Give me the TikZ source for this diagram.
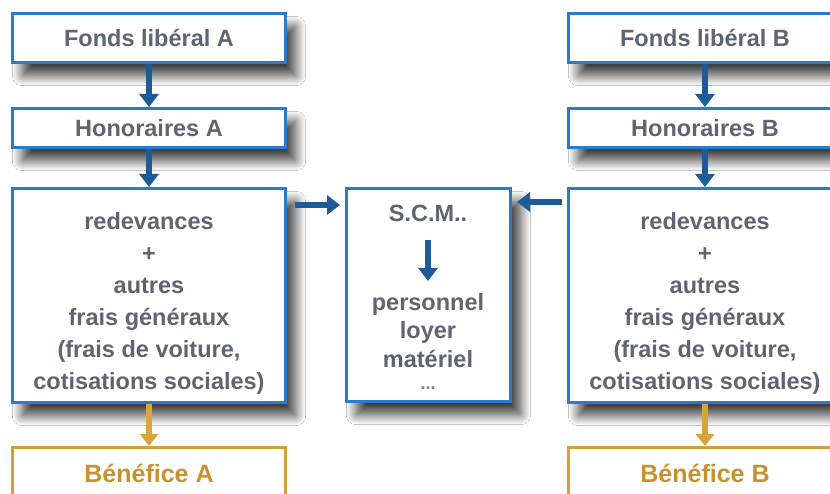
\documentclass[tikz,border=0pt]{standalone}
\usepackage{fontspec}
\setmainfont{Liberation Sans}
\usetikzlibrary{arrows.meta,shadows.blur}
\definecolor{boxblue}{HTML}{2A7BCB}
\definecolor{arrblue}{HTML}{1F5A98}
\definecolor{txtgray}{HTML}{5E6572}
\definecolor{goldline}{HTML}{D4A03A}
\definecolor{goldtxt}{HTML}{C8912B}
\definecolor{goldarr}{HTML}{D9A53A}
\begin{document}
\begin{tikzpicture}[x=1pt,y=-1pt,
  bluebox/.style={draw=boxblue,line width=2.6pt,fill=white,inner sep=0pt,
    text=txtgray,font=\bfseries\fontsize{23.5}{32}\selectfont,align=center,
    blur shadow={shadow xshift=10pt,shadow yshift=-13pt,shadow blur radius=10pt,shadow blur steps=14,shadow opacity=75}},
  colbox/.style={bluebox,minimum width=273.4pt},
  goldbox/.style={draw=goldline,line width=2.6pt,fill=white,inner sep=0pt,
    minimum width=273.4pt,minimum height=51.4pt,text=goldtxt,
    font=\bfseries\fontsize{25}{30}\selectfont},
  plaintxt/.style={inner sep=0pt,text=txtgray,font=\bfseries\fontsize{23.5}{28.5}\selectfont,align=center},
  bluearr/.style={line width=6pt,draw=arrblue,-{Triangle[width=19pt,length=13pt]}},
  goldarrow/.style={line width=5.5pt,draw=goldarr,-{Triangle[width=18pt,length=12pt]}}
]
\clip (0,0) rectangle (830,494);
\fill[white] (0,0) rectangle (830,494);

% left column
\node[colbox,minimum height=49.4pt] (fa) at (149,38) {Fonds libéral A};
\node[colbox,minimum height=39.4pt] (ha) at (149,128) {Honoraires A};
\node[colbox,minimum height=214.4pt] (ra) at (149,295.5) {\rule{0pt}{33pt}redevances\\+\\autres\\frais généraux\\(frais de voiture,\\cotisations sociales)};
\node[goldbox] (ba) at (149,473) {Bénéfice A};

% right column
\node[colbox,minimum height=49.4pt] (fb) at (705,38) {Fonds libéral B};
\node[colbox,minimum height=39.4pt] (hb) at (705,128) {Honoraires B};
\node[colbox,minimum height=214.4pt] (rb) at (705,295.5) {\rule{0pt}{33pt}redevances\\+\\autres\\frais généraux\\(frais de voiture,\\cotisations sociales)};
\node[goldbox] (bb) at (705,473) {Bénéfice B};

% SCM
\node[bluebox,minimum width=164.4pt,minimum height=213.4pt] (scm) at (428.5,295) {};
\node[plaintxt] (scmt) at (428,213) {S.C.M..};
\node[plaintxt,anchor=north] (items) at (428,293) {personnel\\loyer\\matériel\\[-6pt]{\color{txtgray!80}\fontsize{18}{18}\selectfont ...}};

% arrows
\draw[bluearr] (fa.south) -- (ha.north);
\draw[bluearr] (ha.south) -- (ra.north);
\draw[bluearr] (fb.south) -- (hb.north);
\draw[bluearr] (hb.south) -- (rb.north);
\draw[goldarrow] (ra.south) -- (ba.north);
\draw[goldarrow] (rb.south) -- (bb.north);
\draw[bluearr,shorten <=18pt,shorten >=12pt] (scmt.south) -- (items.north);
\draw[bluearr] ([xshift=8pt,yshift=-18pt]ra.north east) -- ([xshift=-5pt,yshift=-18pt]scm.north west);
\draw[bluearr] ([xshift=-5pt,yshift=-15pt]rb.north west) -- ([xshift=5pt,yshift=-15pt]scm.north east);
\end{tikzpicture}
\end{document}
